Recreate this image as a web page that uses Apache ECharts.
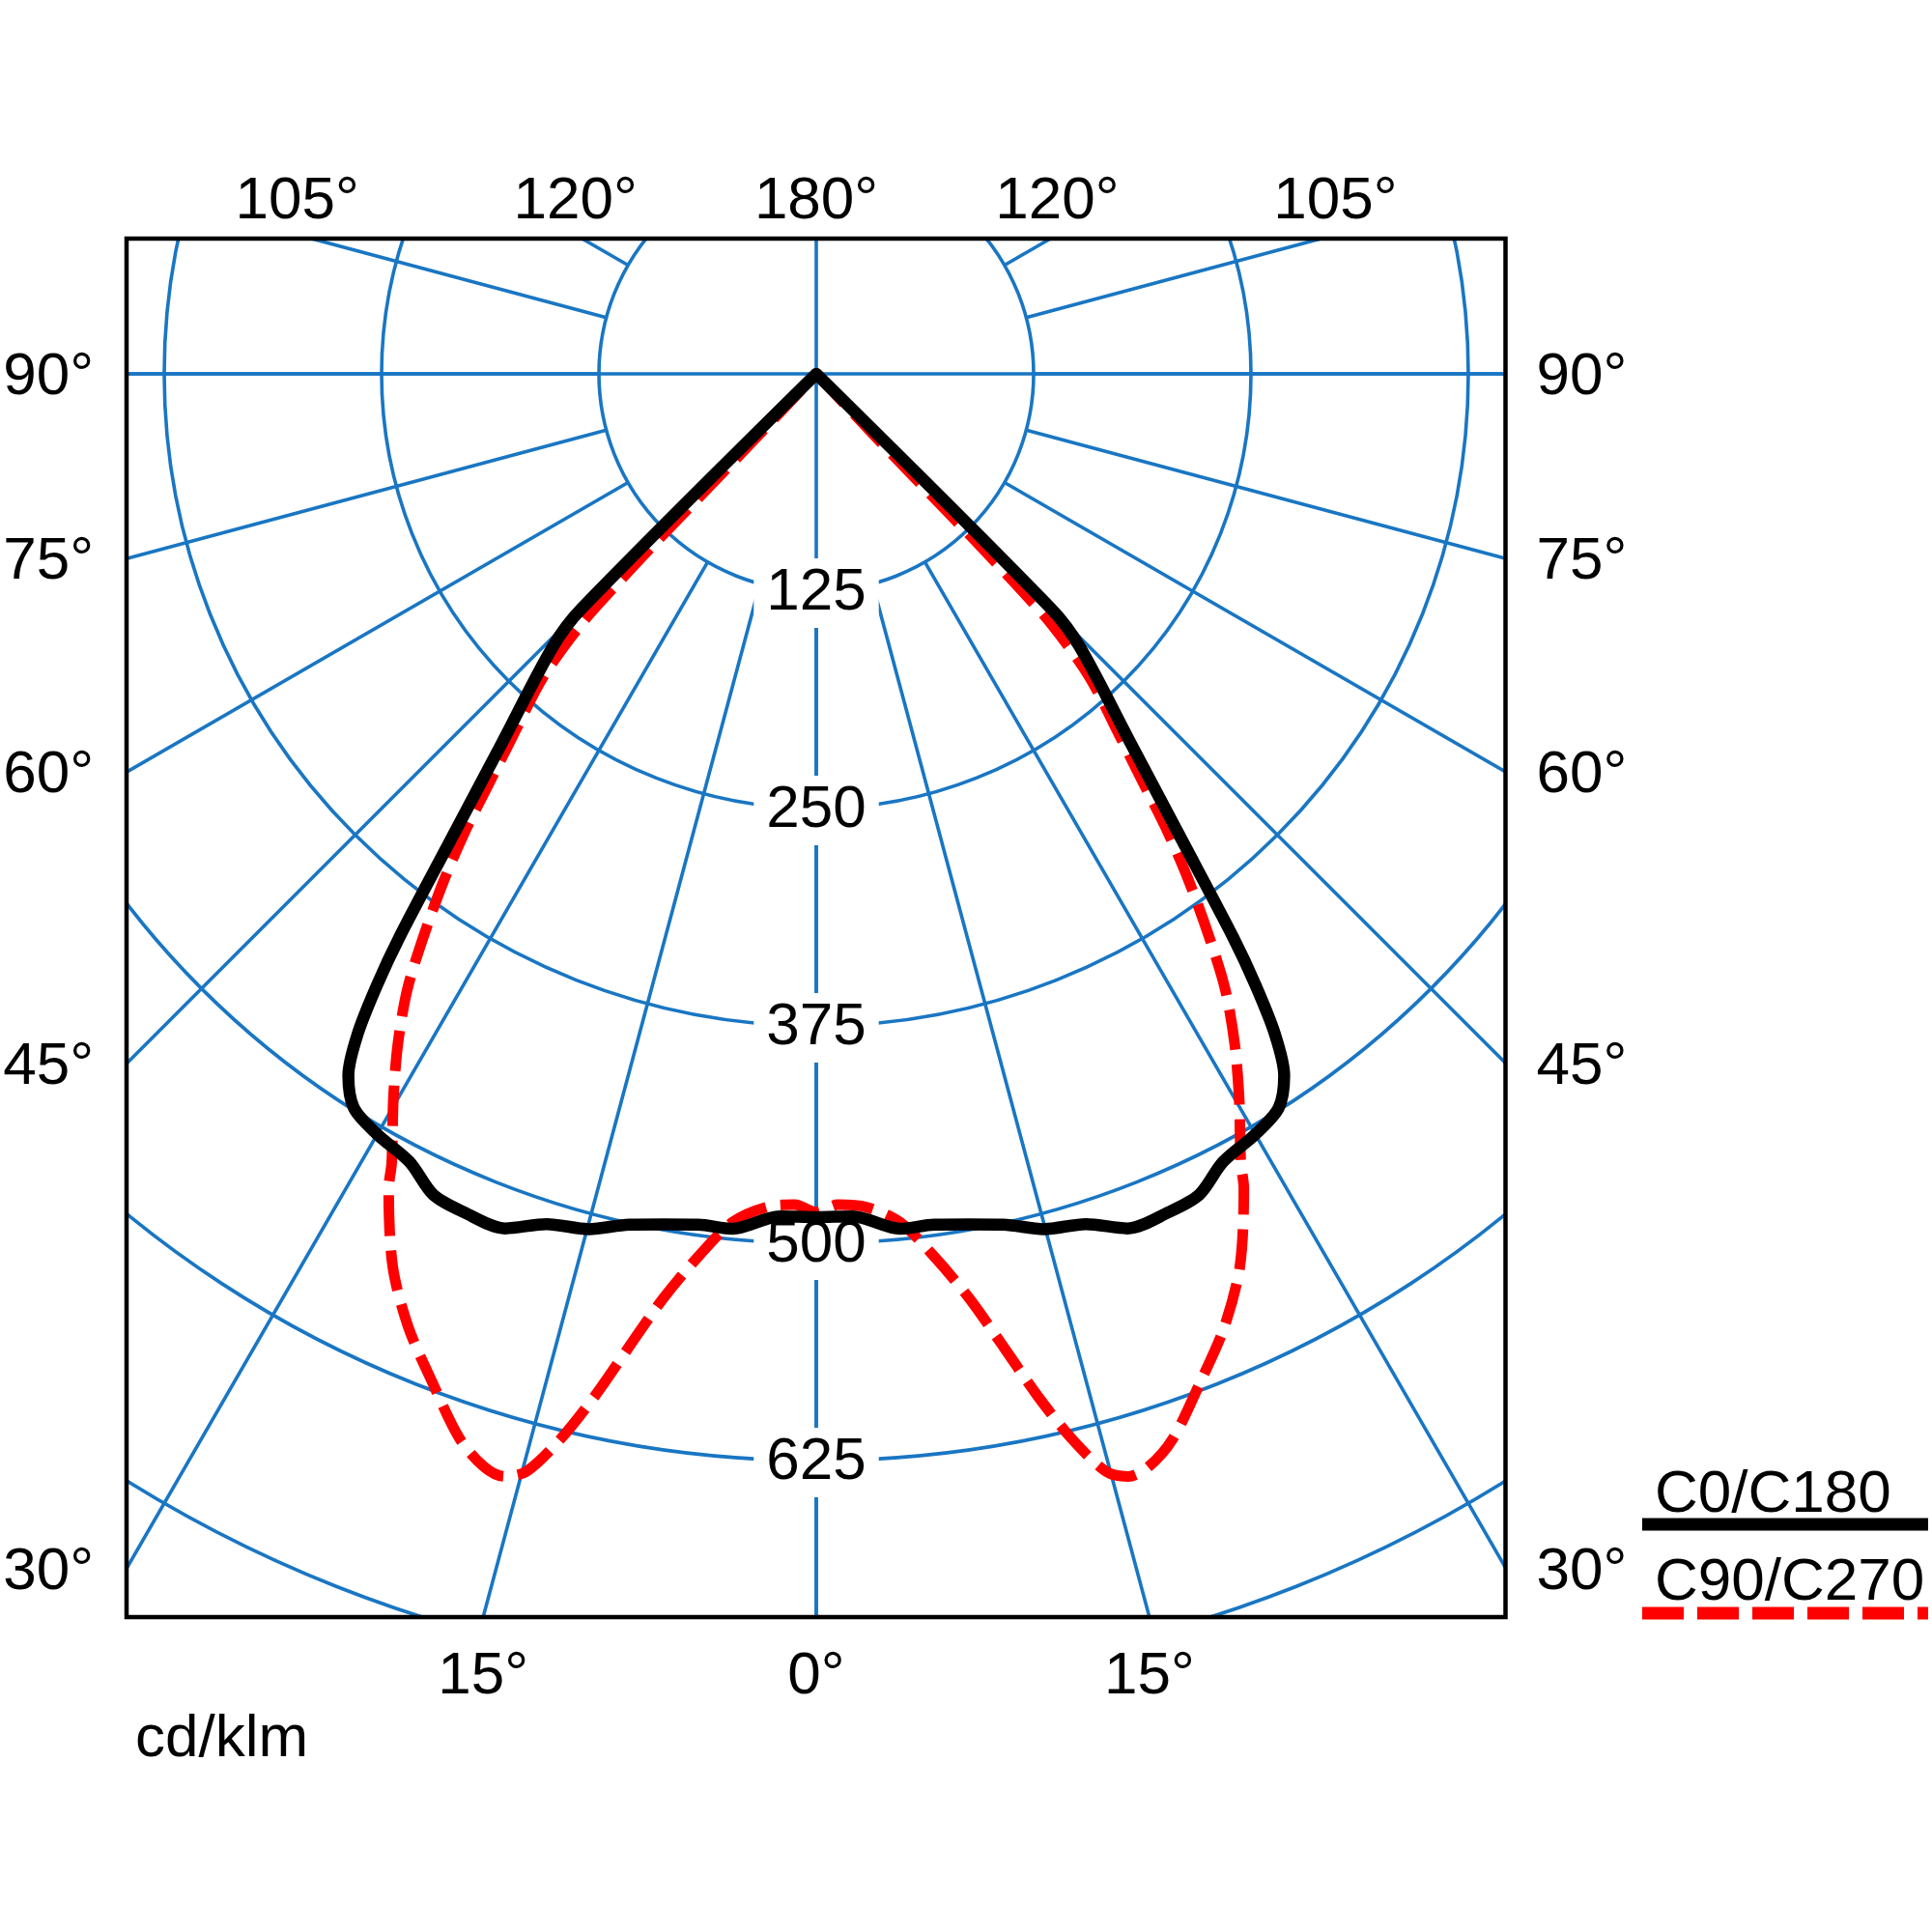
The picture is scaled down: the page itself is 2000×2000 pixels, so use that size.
<!DOCTYPE html>
<html>
<head>
<meta charset="utf-8">
<title>cd/klm</title>
<script src="https://cdn.jsdelivr.net/npm/echarts@6/dist/echarts.min.js"></script>
<style>
    html, body { margin: 0; padding: 0; background: #fff; }
    #chart { width: 2000px; height: 2000px; }
</style>
</head>
<body>
<div id="chart"></div>
<script>
// half planes, 0 deg = straight down; the other half is the mirror image
var anglesC0 = [0, 2.5, 5.6, 7.9, 10.2, 12.4, 14.9, 17.6, 20, 22.8, 25, 27.3, 30, 32.2, 33.7, 34.8, 35.7, 36.5, 38.1, 40.4, 44, 45, 48];
var valuesC0 = [485, 485, 494, 494, 497, 501, 509, 513, 523, 523, 521, 510, 505, 499, 485, 462, 433, 403, 341, 279, 218, 191, 0];

var anglesC90 = [0, 1.5, 3.4, 5.6, 7.6, 9.4, 10.9, 12.2, 13.5, 14.8, 15.8, 16.9, 18.5, 20.9, 23.2, 25.4, 27.7, 28.3, 30.3, 32, 33.6, 34.9, 36.3, 37.5, 38.6, 40, 42, 43.2, 43.5, 43.6, 43.5, 43.3, 47];
var valuesC90 = [482, 478, 480, 490, 512, 539, 570, 601, 630, 653, 659, 657, 646, 620, 596, 568, 529, 515, 482, 454, 425, 395, 362, 332, 302, 271, 235, 198, 164, 132, 98, 53, 0];

var ringTicks = [125, 250, 375, 500, 625];
var sideAngles = [90, 75, 60, 45, 30];
var topAngles = [105, 120, 180];
var bottomAngles = [15, 0];
var legendNames = ['C0/C180', 'C90/C270'];

// layout
var cx = 845, cy = 387;
var pxPerUnit = 1.8;
var box = { l: 131, r: 1558.5, t: 247, b: 1674 };
var blue = '#1976c3';
var FAMILY = '"Liberation Sans", Arial, sans-serif';
var FONT = '62px ' + FAMILY;
var dyText = 4; // glyph centre sits a bit high with 'middle'

function mirrorPlane(angles, values) {
    var pts = [];
    for (var i = angles.length - 1; i > 0; i--) {
        pts.push([values[i], 360 - angles[i]]);
    }
    for (var j = 0; j < angles.length; j++) {
        pts.push([values[j], angles[j]]);
    }
    return pts;
}

function txt(s, x, y, align) {
    return {
        type: 'text', z: 110, silent: true,
        style: { text: s, x: x, y: y + dyText, font: FONT, fill: '#000', align: align, verticalAlign: 'middle', textAlign: align, textVerticalAlign: 'middle' }
    };
}

var rad = Math.PI / 180;
var graphics = [
    // white mask outside the frame
    { type: 'rect', z: 100, silent: true, shape: { x: 0, y: 0, width: 2000, height: box.t }, style: { fill: '#fff' } },
    { type: 'rect', z: 100, silent: true, shape: { x: 0, y: box.b, width: 2000, height: 2000 - box.b }, style: { fill: '#fff' } },
    { type: 'rect', z: 100, silent: true, shape: { x: 0, y: 0, width: box.l, height: 2000 }, style: { fill: '#fff' } },
    { type: 'rect', z: 100, silent: true, shape: { x: box.r, y: 0, width: 2000 - box.r, height: 2000 }, style: { fill: '#fff' } },
    { type: 'rect', z: 101, silent: true, shape: { x: box.l, y: box.t, width: box.r - box.l, height: box.b - box.t }, style: { fill: 'none', stroke: '#000', lineWidth: 4.5 } }
];

sideAngles.forEach(function (a) {
    var y = a === 90 ? cy : cy + (cx - box.l) / Math.tan(a * rad);
    graphics.push(txt(a + '°', box.l - 34, y, 'right'));
    graphics.push(txt(a + '°', box.r + 32, y, 'left'));
});
topAngles.forEach(function (a) {
    var dx = (cy - box.t + 4) * Math.tan((180 - a) * rad);
    graphics.push(txt(a + '°', cx - dx, 205, 'center'));
    if (dx > 0) graphics.push(txt(a + '°', cx + dx, 205, 'center'));
});
bottomAngles.forEach(function (a) {
    var dx = (box.b - cy) * Math.tan(a * rad);
    graphics.push(txt(a + '°', cx - dx, 1732, 'center'));
    if (dx > 0) graphics.push(txt(a + '°', cx + dx, 1732, 'center'));
});
graphics.push(txt('cd/klm', 140, 1797, 'left'));

// legend
graphics.push(txt(legendNames[0], 1713, 1544, 'left'));
graphics.push({ type: 'line', z: 110, silent: true, shape: { x1: 1700, y1: 1578, x2: 1996, y2: 1578 }, style: { stroke: '#000', lineWidth: 13 } });
graphics.push(txt(legendNames[1], 1713, 1635, 'left'));
graphics.push({ type: 'line', z: 110, silent: true, shape: { x1: 1700, y1: 1670, x2: 1996, y2: 1670 }, style: { stroke: '#ff0000', lineWidth: 13, lineDash: [43, 14] } });

var hidden = { show: false };
var gridLine = { show: true, lineStyle: { color: blue, width: 3.6 } };

var option = {
    animation: false,
    backgroundColor: '#fff',
    polar: [
        { center: [cx, cy], radius: [0, 1000 * pxPerUnit] },
        { center: [cx, cy], radius: [125 * pxPerUnit, 1000 * pxPerUnit] }
    ],
    angleAxis: [
        { polarIndex: 0, type: 'value', min: 0, max: 360, interval: 90, startAngle: 270, clockwise: true,
          axisLine: hidden, axisTick: hidden, axisLabel: hidden, splitLine: gridLine },
        { polarIndex: 1, type: 'value', min: 0, max: 360, interval: 15, startAngle: 270, clockwise: true,
          axisLine: hidden, axisTick: hidden, axisLabel: hidden, splitLine: gridLine }
    ],
    radiusAxis: [
        { polarIndex: 0, type: 'value', min: 0, max: 1000, interval: 125,
          axisLine: hidden, axisTick: hidden, axisLabel: hidden, splitLine: gridLine },
        { polarIndex: 1, type: 'value', min: 125, max: 1000, interval: 125,
          axisLine: hidden, axisTick: hidden, axisLabel: hidden, splitLine: hidden }
    ],
    series: [
        {
            type: 'scatter', coordinateSystem: 'polar', polarIndex: 0, z: 1, silent: true,
            data: ringTicks.map(function (v) { return [v, 0]; }),
            symbolSize: 1, itemStyle: { color: 'rgba(0,0,0,0)', opacity: 1 },
            label: {
                show: true, position: 'inside', formatter: function (p) { return p.value[0]; },
                fontSize: 62, fontFamily: FAMILY, color: '#000', opacity: 1, textBorderWidth: 0,
                backgroundColor: '#fff', padding: [5, 13], offset: [0, 2]
            }
        },
        {
            name: legendNames[1], type: 'line', coordinateSystem: 'polar', polarIndex: 0, z: 3,
            data: mirrorPlane(anglesC90, valuesC90), symbol: 'none', smooth: 0.3, silent: true,
            lineStyle: { color: '#ff0000', width: 11, type: [42, 15] }
        },
        {
            name: legendNames[0], type: 'line', coordinateSystem: 'polar', polarIndex: 0, z: 4,
            data: mirrorPlane(anglesC0, valuesC0), symbol: 'none', smooth: 0.3, silent: true,
            lineStyle: { color: '#000', width: 12.5, cap: 'round', join: 'round' }
        }
    ],
    graphic: graphics
};

var myChart = echarts.init(document.getElementById('chart'));
myChart.setOption(option);
</script>
</body>
</html>
